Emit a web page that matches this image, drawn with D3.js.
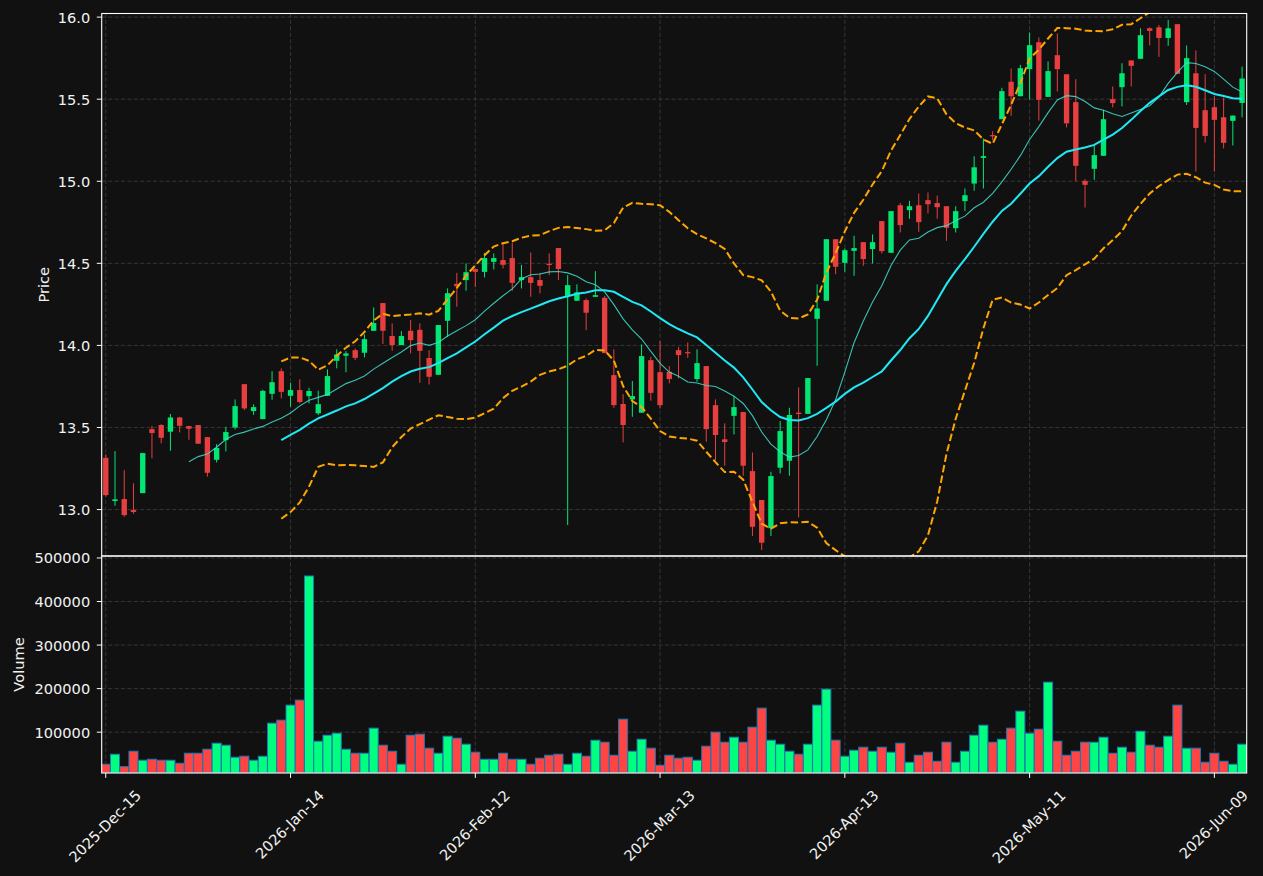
<!DOCTYPE html>
<html><head><meta charset="utf-8">
<script src="https://cdn.jsdelivr.net/npm/d3@7"></script>
<style>html,body{margin:0;padding:0;background:#111111;}svg{display:block;}</style>
</head><body>
<svg id="chart" width="1263" height="876"></svg>
<script>
// ---------- DATA ----------
const tickIndex  = [0, 20, 40, 60, 80, 100, 120];
const tickLabels = ["2025-Dec-15","2026-Jan-14","2026-Feb-12","2026-Mar-13","2026-Apr-13","2026-May-11","2026-Jun-09"];
const priceTicks = [13.0, 13.5, 14.0, 14.5, 15.0, 15.5, 16.0];
const volumeTicks = [100000, 200000, 300000, 400000, 500000];

const opens = [13.315,13.052,13.064,12.997,13.100,13.490,13.515,13.474,13.561,13.509,
13.515,13.441,13.303,13.423,13.500,13.764,13.600,13.551,13.705,13.843,
13.693,13.728,13.691,13.586,13.693,13.906,13.937,13.971,13.955,14.089,
14.258,14.057,14.002,14.089,14.095,13.923,13.821,14.150,14.375,14.398,
14.465,14.448,14.509,14.520,14.532,14.398,14.416,14.398,14.497,14.593,
14.302,14.272,14.276,14.296,14.290,13.819,13.643,13.671,13.590,13.910,
13.837,13.839,13.971,13.959,13.795,13.874,13.636,13.428,13.571,13.594,
13.234,13.058,12.886,13.255,13.297,13.590,13.583,14.162,14.272,14.647,
14.503,14.576,14.629,14.587,14.757,14.564,14.854,14.824,14.854,14.885,
14.867,14.848,14.714,14.879,14.986,15.142,15.281,15.378,15.606,15.518,
15.683,15.847,15.514,15.768,15.652,15.482,15.002,15.076,15.155,15.500,
15.573,15.736,15.746,15.932,15.938,15.873,15.957,15.482,15.658,15.433,
15.451,15.390,15.368,15.477];
const highs = [13.336,13.356,13.240,13.160,13.345,13.510,13.520,13.582,13.565,13.510,
13.515,13.441,13.399,13.504,13.671,13.764,13.641,13.730,13.843,13.860,
13.772,13.793,13.742,13.724,13.854,13.976,13.965,13.982,14.067,14.231,
14.258,14.134,14.087,14.154,14.134,13.971,14.124,14.347,14.442,14.499,
14.470,14.564,14.560,14.621,14.625,14.491,14.566,14.442,14.560,14.593,
14.428,14.372,14.286,14.452,14.302,13.976,13.703,13.783,14.006,13.931,
14.026,13.874,13.991,14.018,13.976,13.874,13.671,13.525,13.693,13.594,
13.348,13.058,13.230,13.539,13.620,13.744,13.801,14.372,14.647,14.647,
14.591,14.668,14.629,14.676,14.757,14.818,14.868,14.881,14.926,14.932,
14.913,14.848,14.848,14.956,15.152,15.261,15.305,15.569,15.687,15.709,
15.906,15.876,15.730,15.900,15.652,15.622,15.013,15.218,15.435,15.577,
15.719,15.736,15.932,15.938,15.952,15.983,15.957,15.827,15.797,15.652,
15.520,15.510,15.400,15.699];
const lows = [13.080,13.023,12.956,12.974,13.100,13.312,13.403,13.358,13.470,13.425,
13.401,13.200,13.287,13.354,13.488,13.606,13.577,13.551,13.669,13.677,
13.626,13.647,13.647,13.576,13.693,13.860,13.836,13.910,13.927,14.089,
14.008,13.967,14.002,13.951,13.772,13.762,13.821,14.052,14.235,14.333,
14.355,14.414,14.463,14.469,14.333,14.347,14.296,14.317,14.428,14.398,
12.906,14.272,14.093,14.296,13.953,13.620,13.409,13.565,13.590,13.663,
13.616,13.769,13.799,13.924,13.778,13.413,13.301,13.267,13.458,13.206,
12.839,12.753,12.839,13.220,13.206,12.952,13.583,13.876,14.272,14.434,
14.448,14.424,14.485,14.499,14.560,14.564,14.688,14.771,14.692,14.804,
14.771,14.637,14.688,14.818,14.942,14.956,15.250,15.378,15.398,15.518,
15.498,15.370,15.514,15.547,15.328,14.999,14.840,15.009,15.155,15.450,
15.456,15.577,15.746,15.827,15.758,15.825,15.654,15.465,15.059,15.236,
15.059,15.200,15.218,15.389];
const closes = [13.088,13.062,12.966,12.985,13.344,13.466,13.437,13.561,13.510,13.492,
13.401,13.224,13.375,13.472,13.630,13.616,13.624,13.723,13.776,13.717,
13.728,13.655,13.722,13.642,13.813,13.945,13.951,13.924,14.038,14.136,
14.089,14.002,14.057,14.032,13.967,13.809,14.124,14.318,14.360,14.446,
14.448,14.532,14.532,14.491,14.381,14.416,14.381,14.363,14.491,14.465,
14.367,14.323,14.199,14.306,13.953,13.636,13.515,13.691,13.935,13.711,
13.636,13.795,13.941,13.953,13.892,13.490,13.454,13.411,13.624,13.267,
12.895,12.798,13.204,13.478,13.576,13.582,13.801,14.225,14.647,14.479,
14.580,14.593,14.526,14.629,14.574,14.818,14.733,14.848,14.751,14.860,
14.842,14.716,14.818,14.915,15.085,15.153,15.275,15.549,15.518,15.689,
15.829,15.496,15.671,15.683,15.353,15.094,14.978,15.159,15.378,15.476,
15.658,15.703,15.890,15.916,15.873,15.932,15.654,15.750,15.325,15.276,
15.374,15.234,15.400,15.626];
const volumes = [26400,49400,21000,56300,35600,37900,35600,35600,28700,51700,
51700,60900,74700,70100,42500,44800,35600,44800,120700,127600,
162100,173600,458600,79300,93100,97700,60900,51700,51700,109200,
70100,56300,26400,93100,95400,63200,51700,90800,86200,72400,
54000,37900,37900,51700,37900,37900,26400,40200,47100,49400,
26400,51700,44800,81600,77000,47100,129900,56300,83900,63200,
24100,47100,40200,42500,35600,67800,100000,77000,88500,77000,
111500,155200,81600,72400,56300,49400,72400,162100,198900,81600,
44800,58600,65500,56300,65500,54000,74700,31000,47100,54000,
33300,77000,31000,56300,93100,116100,77000,83900,109200,148300,
97700,106900,214900,79300,47100,56300,77000,77000,88500,51700,
65500,54000,102300,70100,65500,90800,162100,63200,63200,31000,
51700,33300,26400,72400];

// ---------- DERIVED (moving averages, bands) ----------
function sma(n){ return closes.map((_, i) => i < n - 1 ? null : d3.mean(closes.slice(i - n + 1, i + 1))); }
const ma10 = sma(10);
const ma20 = sma(20);
const sd20 = closes.map((_, i) => {
  if (i < 19) return null;
  const w = closes.slice(i - 19, i + 1), m = d3.mean(w);
  return Math.sqrt(d3.sum(w, v => (v - m) * (v - m)) / w.length);
});
const bbUpper = ma20.map((m, i) => m == null ? null : m + 2 * sd20[i]);
const bbLower = ma20.map((m, i) => m == null ? null : m - 2 * sd20[i]);

// ---------- LAYOUT ----------
const L = 101.7, R = 1246.7, PT = 13.5, PB = 556, VT = 556, VB = 773;
const FONT = "'DejaVu Sans', sans-serif";
const FS = 14.6;
const TXT = "#f2f2f2";
const UP = "#02e774", DOWN = "#e73f3f", VUP = "#00ff7f", VDOWN = "#ff4444";

const svg = d3.select("#chart");
svg.append("rect").attr("width", 1263).attr("height", 876).attr("fill", "#111111");

const x = d3.scaleLinear().domain([-0.44, 123.5]).range([L, R]);
const y = d3.scaleLinear().domain([12.717, 16.022]).range([PB, PT]);
const yv = d3.scaleLinear().domain([0.3 * d3.min(volumes), 1.1 * d3.max(volumes)]).range([VB, VT]);
const step = x(1) - x(0);

const defs = svg.append("defs");
defs.append("clipPath").attr("id", "clipP").append("rect")
  .attr("x", L).attr("y", PT).attr("width", R - L).attr("height", PB - PT);
defs.append("clipPath").attr("id", "clipV").append("rect")
  .attr("x", L).attr("y", VT).attr("width", R - L).attr("height", VB - VT);

// grids
const grid = svg.append("g").attr("stroke", "#3a3a3a").attr("stroke-width", 0.9).attr("stroke-dasharray", "4.2,2.2");
grid.selectAll(".gy").data(priceTicks).join("line").attr("class","gy")
  .attr("x1", L).attr("x2", R).attr("y1", d => y(d)).attr("y2", d => y(d));
grid.selectAll(".gv").data(volumeTicks).join("line").attr("class","gv")
  .attr("x1", L).attr("x2", R).attr("y1", d => yv(d)).attr("y2", d => yv(d));
grid.selectAll(".gx1").data(tickIndex).join("line").attr("class","gx1")
  .attr("x1", d => x(d)).attr("x2", d => x(d)).attr("y1", PT).attr("y2", PB);
grid.selectAll(".gx2").data(tickIndex).join("line").attr("class","gx2")
  .attr("x1", d => x(d)).attr("x2", d => x(d)).attr("y1", VT).attr("y2", VB);

// volume bars
const idx = d3.range(closes.length);
svg.append("g").attr("clip-path", "url(#clipV)").selectAll("rect").data(idx).join("rect")
  .attr("x", i => x(i) - step * 0.49).attr("width", step * 0.98)
  .attr("y", i => yv(volumes[i])).attr("height", i => VB - yv(volumes[i]))
  .attr("fill", i => closes[i] >= opens[i] ? VUP : VDOWN)
  .attr("stroke", "#1f77b4").attr("stroke-width", 1);

// candles
const cg = svg.append("g").attr("clip-path", "url(#clipP)");
cg.selectAll("line").data(idx).join("line")
  .attr("x1", i => x(i)).attr("x2", i => x(i))
  .attr("y1", i => y(highs[i])).attr("y2", i => y(lows[i]))
  .attr("stroke", i => closes[i] >= opens[i] ? UP : DOWN).attr("stroke-width", 1);
const bw = step * 0.58;
cg.selectAll("rect").data(idx).join("rect")
  .attr("x", i => x(i) - bw / 2).attr("width", bw)
  .attr("y", i => y(Math.max(opens[i], closes[i])))
  .attr("height", i => Math.max(1.2, Math.abs(y(opens[i]) - y(closes[i]))))
  .attr("fill", i => closes[i] >= opens[i] ? UP : DOWN);

// lines
const lg = svg.append("g").attr("clip-path", "url(#clipP)").attr("fill", "none");
const mk = arr => d3.line().defined(i => arr[i] != null).x(i => x(i)).y(i => y(arr[i]))(idx);
lg.append("path").attr("d", mk(bbUpper)).attr("stroke", "#ffa500").attr("stroke-width", 2).attr("stroke-dasharray", "7.4,3.3");
lg.append("path").attr("d", mk(bbLower)).attr("stroke", "#ffa500").attr("stroke-width", 2).attr("stroke-dasharray", "7.4,3.3");
lg.append("path").attr("d", mk(ma10)).attr("stroke", "#40e0d0").attr("stroke-opacity", 0.85).attr("stroke-width", 1.1);
lg.append("path").attr("d", mk(ma20)).attr("stroke", "#1ee9f5").attr("stroke-width", 2);

// spines
svg.append("rect").attr("x", L).attr("y", PT).attr("width", R - L).attr("height", PB - PT)
  .attr("fill", "none").attr("stroke", "#ffffff").attr("stroke-width", 1.1);
svg.append("rect").attr("x", L).attr("y", VT).attr("width", R - L).attr("height", VB - VT)
  .attr("fill", "none").attr("stroke", "#ffffff").attr("stroke-width", 1.1);

// y ticks
const ax = svg.append("g").attr("font-family", FONT).attr("font-size", FS).attr("fill", TXT);
priceTicks.forEach(t => {
  ax.append("line").attr("x1", L - 4.9).attr("x2", L).attr("y1", y(t)).attr("y2", y(t)).attr("stroke", "#fff");
  ax.append("text").attr("x", L - 11.5).attr("y", y(t)).attr("text-anchor", "end")
    .attr("dominant-baseline", "central").text(d3.format(".1f")(t));
});
volumeTicks.forEach(t => {
  ax.append("line").attr("x1", L - 4.9).attr("x2", L).attr("y1", yv(t)).attr("y2", yv(t)).attr("stroke", "#fff");
  ax.append("text").attr("x", L - 11.5).attr("y", yv(t)).attr("text-anchor", "end")
    .attr("dominant-baseline", "central").text(d3.format("d")(t));
});
// x ticks
tickIndex.forEach((t, k) => {
  ax.append("line").attr("x1", x(t)).attr("x2", x(t)).attr("y1", VB).attr("y2", VB + 4.9).attr("stroke", "#fff");
  const tx = ax.append("text").attr("text-anchor", "middle").attr("dominant-baseline", "central").text(tickLabels[k]);
  const len = tx.node().getComputedTextLength();
  const cy = 786.5 + (len + FS * 1.15) * Math.SQRT1_2 / 2;
  tx.attr("transform", `translate(${x(t) - 1},${cy}) rotate(-45)`);
});
// axis labels
ax.append("text").attr("transform", `translate(43,${(PT + PB) / 2}) rotate(-90)`)
  .attr("text-anchor", "middle").attr("dominant-baseline", "central").text("Price");
ax.append("text").attr("transform", `translate(18,${(VT + VB) / 2}) rotate(-90)`)
  .attr("text-anchor", "middle").attr("dominant-baseline", "central").text("Volume");
</script>
</body></html>
